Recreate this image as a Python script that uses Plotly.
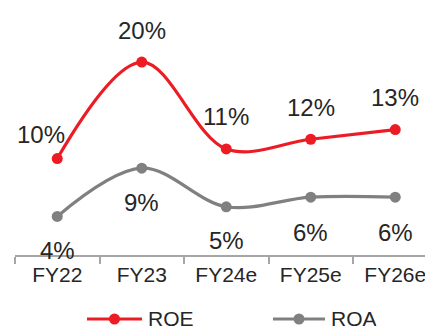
import plotly.graph_objects as go

# Return ratios by fiscal year
years = ["FY22", "FY23", "FY24e", "FY25e", "FY26e"]
roe = [10, 20, 11, 12, 13]
roa = [4, 9, 5, 6, 6]

RED = "#ED1C24"
GREY = "#808080"
TEXT = "#262626"
FONT = "Liberation Sans, Arial, sans-serif"

fig = go.Figure()

for name, vals, color in [("ROE", roe, RED), ("ROA", roa, GREY)]:
    fig.add_trace(go.Scatter(
        x=years, y=vals, name=name, mode="lines+markers",
        line=dict(color=color, width=3.2, shape="spline", smoothing=1.0),
        marker=dict(color=color, size=11),
        showlegend=False, cliponaxis=False,
    ))

# value labels: ROE above the points, ROA below
roe_shift = [(-16, 24), (0, 32), (0, 32), (0, 32), (0, 32)]
roa_shift = [(0, -34), (0, -34), (0, -34), (0, -35), (0, -35)]
for vals, shifts in [(roe, roe_shift), (roa, roa_shift)]:
    for xv, yv, (dx, dy) in zip(years, vals, shifts):
        fig.add_annotation(
            x=xv, y=yv, text=f"{yv}%", showarrow=False,
            xshift=dx, yshift=dy, xanchor="center", yanchor="middle",
            font=dict(size=24, color=TEXT, family=FONT),
        )

# legend drawn below the axis
L, R, T, B = 15, 425, 10, 255
def px(x):
    return (x - L) / (R - L)
def py(y):
    return (B - y) / (B - T)

legend_items = [("ROE", RED, 87, 142, 146), ("ROA", GREY, 273, 325, 329)]
ly = 319
for label, color, x0, x1, xt in legend_items:
    fig.add_shape(type="line", xref="paper", yref="paper",
                  x0=px(x0), x1=px(x1), y0=py(ly), y1=py(ly),
                  line=dict(color=color, width=3.2))
    fig.add_shape(type="circle", xref="paper", yref="paper",
                  xsizemode="pixel", ysizemode="pixel",
                  xanchor=px((x0 + x1) / 2), yanchor=py(ly),
                  x0=-5.5, x1=5.5, y0=-5.5, y1=5.5,
                  fillcolor=color, line=dict(width=0))
    fig.add_annotation(xref="paper", yref="paper", x=px(xt), y=py(318),
                       text=label, showarrow=False, xanchor="left", yanchor="middle",
                       height=20, valign="middle",
                       font=dict(size=21, color=TEXT, family=FONT))

fig.update_xaxes(
    type="category", range=[-0.5, 4.352],
    showline=True, linecolor="#A6A6A6", linewidth=1.5,
    ticks="outside", tickson="boundaries", ticklen=7, tickcolor="#A6A6A6", tickwidth=1.5,
    showgrid=False, zeroline=False,
    tickfont=dict(size=21, color=TEXT, family=FONT),
)
fig.update_yaxes(range=[0, 25.4], visible=False, showgrid=False, zeroline=False)

fig.update_layout(
    width=425, height=329,
    margin=dict(l=L, r=0, t=T, b=329 - B),
    paper_bgcolor="white", plot_bgcolor="white",
    font=dict(family=FONT, color=TEXT),
)

fig.write_html("out.html")
